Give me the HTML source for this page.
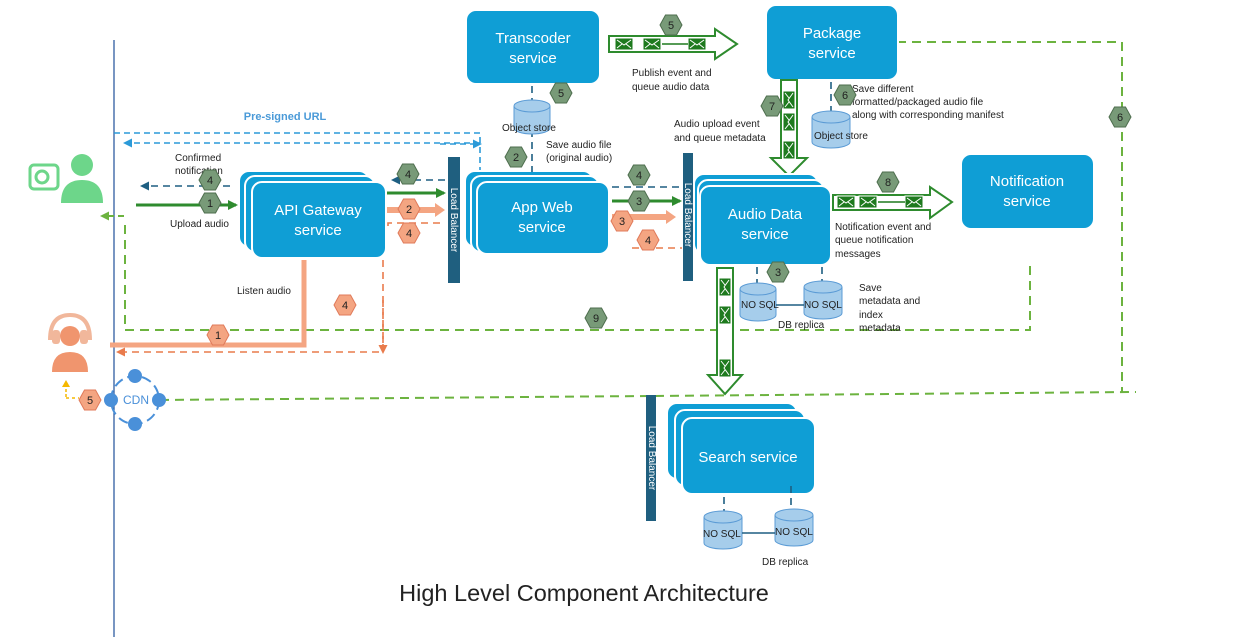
<!DOCTYPE html>
<html><head><meta charset="utf-8"><style>
html,body{margin:0;padding:0;background:#fff;width:1257px;height:637px;overflow:hidden}
svg{display:block;font-family:"Liberation Sans",sans-serif}
.bx{fill:#0f9ed5;stroke:#fff;stroke-width:2}
.bt{fill:#fff;font-size:15px;text-anchor:middle}
.lbl{font-size:10px;fill:#222}
.hg{fill:#789a78;stroke:#4e6e4e;stroke-width:1}
.ho{fill:#f4a582;stroke:#e07a5a;stroke-width:1}
.ht{font-size:11px;text-anchor:middle;fill:#222}
.cyl{fill:#a6cdeb;stroke:#5b9bd5;stroke-width:1}
.gd{stroke:#6cb33f;stroke-width:2;stroke-dasharray:9 6;fill:none}
.od{stroke:#e97b4c;stroke-width:1.6;stroke-dasharray:7 5;fill:none}
.bd{stroke:#1e5f82;stroke-width:1.6;stroke-dasharray:7 5;fill:none}
.ld{stroke:#2b9ad8;stroke-width:1.6;stroke-dasharray:6 4;fill:none}
</style></head><body>
<svg width="1257" height="637" viewBox="0 0 1257 637">
<defs>
<marker id="ag" markerUnits="userSpaceOnUse" markerWidth="10" markerHeight="10" refX="8" refY="5" orient="auto"><path d="M0,0L10,5L0,10z" fill="#2e8b2e"/></marker>
<marker id="ab" markerUnits="userSpaceOnUse" markerWidth="9" markerHeight="9" refX="7" refY="4.5" orient="auto"><path d="M0,0L9,4.5L0,9z" fill="#1e5f82"/></marker>
<marker id="al" markerUnits="userSpaceOnUse" markerWidth="9" markerHeight="9" refX="7" refY="4.5" orient="auto"><path d="M0,0L9,4.5L0,9z" fill="#2b9ad8"/></marker>
<marker id="ao" markerUnits="userSpaceOnUse" markerWidth="9" markerHeight="9" refX="7" refY="4.5" orient="auto"><path d="M0,0L9,4.5L0,9z" fill="#e97b4c"/></marker>
<marker id="agl" markerUnits="userSpaceOnUse" markerWidth="9" markerHeight="9" refX="7" refY="4.5" orient="auto"><path d="M0,0L9,4.5L0,9z" fill="#6cb33f"/></marker>
<g id="env"><rect x="-9" y="-6" width="18" height="12" fill="#1e7a1e" stroke="#fff" stroke-width="1"/><path d="M-7,-4L0,1L7,-4M-7,4L-2,0M7,4L2,0" stroke="#fff" fill="none" stroke-width="1"/></g>
</defs>

<line x1="114" y1="40" x2="114" y2="637" stroke="#1e4f9a" stroke-width="1.2"/>

<path class="gd" d="M125,225 V330 H1030 V265"/>
<path class="gd" d="M897,42 H1122 V392"/>
<path class="gd" d="M160,400 L1136,392"/>
<line x1="124" y1="216" x2="102" y2="216" stroke="#6cb33f" stroke-width="2" stroke-dasharray="6 4" marker-end="url(#agl)"/>

<text x="285" y="120" font-size="11" font-weight="bold" fill="#4a9ad8" text-anchor="middle">Pre-signed URL</text>
<path class="ld" d="M114,133 H480 V180"/>
<path class="ld" d="M480,143 H125" marker-end="url(#al)"/>
<path class="ld" d="M440,144 H480" marker-end="url(#al)"/>

<g fill="#6dd68a"><rect x="30" y="165" width="28" height="24" rx="4" fill="none" stroke="#6dd68a" stroke-width="3"/><circle cx="42" cy="177" r="6" fill="none" stroke="#6dd68a" stroke-width="3"/>
<circle cx="82" cy="165" r="11"/><path d="M61,203 Q61,180 82,180 Q103,180 103,203z"/></g>
<g fill="#f0956e"><path d="M50,340 Q50,315 70,315 Q90,315 90,340" fill="none" stroke="#f1b79b" stroke-width="4"/><circle cx="70" cy="336" r="10"/><rect x="52" y="330" width="8" height="14" rx="3" fill="#f1b79b"/><rect x="80" y="330" width="8" height="14" rx="3" fill="#f1b79b"/><path d="M52,372 Q52,352 70,352 Q88,352 88,372z"/></g>
<path d="M66,398 H79" stroke="#f5b800" stroke-width="1.5" stroke-dasharray="3 3"/>
<path d="M66,397 V386" stroke="#f5b800" stroke-width="1.5" stroke-dasharray="3 2"/>
<path d="M62,387 L66,380 L70,387z" fill="#f5b800"/>

<circle cx="135" cy="400" r="24" fill="none" stroke="#4a90d9" stroke-width="2" stroke-dasharray="10 5"/>
<g fill="#4a90d9"><circle cx="135" cy="376" r="7"/><circle cx="111" cy="400" r="7"/><circle cx="159" cy="400" r="7"/><circle cx="135" cy="424" r="7"/></g>
<text x="136" y="404" font-size="12" fill="#4a90d9" text-anchor="middle">CDN</text>

<rect class="bx" x="239" y="171" width="130" height="76" rx="10"/>
<rect class="bx" x="245" y="176" width="130" height="76" rx="10"/>
<rect class="bx" x="252" y="182" width="134" height="76" rx="10"/>
<text class="bt" x="318" y="215">API Gateway</text><text class="bt" x="318" y="235">service</text>

<text class="lbl" x="175" y="161">Confirmed</text><text class="lbl" x="175" y="174">notification</text>
<line class="bd" x1="230" y1="186" x2="142" y2="186" marker-end="url(#ab)"/>
<line x1="136" y1="205" x2="236" y2="205" stroke="#2e8b2e" stroke-width="3" marker-end="url(#ag)"/>
<text class="lbl" x="170" y="227">Upload audio</text>
<text class="lbl" x="237" y="294">Listen audio</text>
<path d="M304,260 V345 H110" stroke="#f4a582" stroke-width="5" fill="none"/>
<path class="od" d="M383,260 V352 H118" marker-end="url(#ao)"/>
<path class="od" d="M383,300 V352" marker-end="url(#ao)"/>

<line class="bd" x1="445" y1="180" x2="393" y2="180" marker-end="url(#ab)"/>
<line x1="387" y1="193" x2="444" y2="193" stroke="#2e8b2e" stroke-width="3" marker-end="url(#ag)"/>
<path d="M387,207 H435 V203 L445,210 L435,217 V213 H387z" fill="#f4a582"/>
<path class="od" d="M388,226 V223 H445"/>

<rect x="448" y="157" width="12" height="126" fill="#1f5f7f"/>
<text x="451" y="220" font-size="10" fill="#fff" text-anchor="middle" transform="rotate(90 451 220)">Load Balancer</text>

<rect class="bx" x="465" y="171" width="128" height="76" rx="10"/>
<rect class="bx" x="471" y="176" width="128" height="76" rx="10"/>
<rect class="bx" x="477" y="182" width="132" height="72" rx="10"/>
<text class="bt" x="542" y="212">App Web</text><text class="bt" x="542" y="232">service</text>

<rect class="bx" x="466" y="10" width="134" height="74" rx="10"/>
<text class="bt" x="533" y="43">Transcoder</text><text class="bt" x="533" y="63">service</text>
<line class="bd" x1="532" y1="86" x2="532" y2="104"/>
<line class="bd" x1="532" y1="130" x2="532" y2="172"/>
<path class="cyl" d="M514,106 V128 A18,6 0 0 0 550,128 V106"/><ellipse class="cyl" cx="532" cy="106" rx="18" ry="6"/>
<text class="lbl" x="502" y="131">Object store</text>
<text class="lbl" x="546" y="148">Save audio file</text><text class="lbl" x="546" y="161">(original audio)</text>

<path d="M609,36 H715 V29 L737,44 L715,59 V52 H609z" fill="#fff" stroke="#2e8b2e" stroke-width="2"/>
<use href="#env" x="624" y="44"/><use href="#env" x="652" y="44"/><use href="#env" x="697" y="44"/>
<line x1="662" y1="44" x2="688" y2="44" stroke="#1e7a1e" stroke-width="1.5"/>
<text class="lbl" x="632" y="76">Publish event and</text><text class="lbl" x="632" y="90">queue audio data</text>

<rect class="bx" x="766" y="5" width="132" height="75" rx="10"/>
<text class="bt" x="832" y="38">Package</text><text class="bt" x="832" y="58">service</text>
<line class="bd" x1="831" y1="82" x2="831" y2="112"/>
<path class="cyl" d="M812,117 V142 A19,6 0 0 0 850,142 V117"/><ellipse class="cyl" cx="831" cy="117" rx="19" ry="6"/>
<text class="lbl" x="814" y="139">Object store</text>
<text class="lbl" x="852" y="92">Save different</text><text class="lbl" x="852" y="105">formatted/packaged  audio file</text><text class="lbl" x="852" y="118">along with corresponding manifest</text>
<path d="M781,80 H797 V158 H807 L789,176 L771,158 H781z" fill="#fff" stroke="#2e8b2e" stroke-width="2"/>
<g transform="rotate(90 789 100)"><use href="#env" x="789" y="100"/></g>
<g transform="rotate(90 789 122)"><use href="#env" x="789" y="122"/></g>
<g transform="rotate(90 789 150)"><use href="#env" x="789" y="150"/></g>
<text class="lbl" x="674" y="127">Audio upload event</text><text class="lbl" x="674" y="141">and queue metadata</text>

<line class="bd" x1="612" y1="187" x2="680" y2="187"/>
<line x1="612" y1="201" x2="680" y2="201" stroke="#2e8b2e" stroke-width="3" marker-end="url(#ag)"/>
<path d="M612,214 H666 V210 L676,217 L666,224 V220 H612z" fill="#f4a582"/>
<path class="od" d="M632,248 H682"/>

<rect x="683" y="153" width="10" height="128" fill="#1f5f7f"/>
<text x="685" y="215" font-size="10" fill="#fff" text-anchor="middle" transform="rotate(90 685 215)">Load Balancer</text>

<rect class="bx" x="694" y="174" width="124" height="80" rx="10"/>
<rect class="bx" x="698" y="180" width="126" height="80" rx="10"/>
<rect class="bx" x="700" y="186" width="131" height="79" rx="10"/>
<text class="bt" x="765" y="219">Audio Data</text><text class="bt" x="765" y="239">service</text>

<line class="bd" x1="757" y1="267" x2="757" y2="285"/><line class="bd" x1="822" y1="267" x2="822" y2="285"/>
<path class="cyl" d="M740,289 V315 A18,6 0 0 0 776,315 V289"/><ellipse class="cyl" cx="758" cy="289" rx="18" ry="6"/>
<path class="cyl" d="M804,287 V313 A19,6 0 0 0 842,313 V287"/><ellipse class="cyl" cx="823" cy="287" rx="19" ry="6"/>
<line x1="776" y1="305" x2="804" y2="305" stroke="#1e5f82" stroke-width="1.5"/>
<text class="lbl" x="741" y="308">NO SQL</text><text class="lbl" x="804" y="308">NO SQL</text>
<text class="lbl" x="778" y="328">DB replica</text>
<text class="lbl" x="859" y="291">Save</text><text class="lbl" x="859" y="304">metadata and</text><text class="lbl" x="859" y="318">index</text><text class="lbl" x="859" y="331">metadata</text>
<text class="lbl" x="835" y="230">Notification event and</text><text class="lbl" x="835" y="243">queue notification</text><text class="lbl" x="835" y="257">messages</text>

<path d="M833,195 H930 V187 L952,202 L930,218 V210 H833z" fill="#fff" stroke="#2e8b2e" stroke-width="2"/>
<use href="#env" x="846" y="202"/><use href="#env" x="868" y="202"/><use href="#env" x="914" y="202"/>
<line x1="878" y1="202" x2="905" y2="202" stroke="#1e7a1e" stroke-width="1.5"/>

<rect class="bx" x="961" y="154" width="133" height="75" rx="10"/>
<text class="bt" x="1027" y="186">Notification</text><text class="bt" x="1027" y="206">service</text>

<path d="M717,268 H733 V375 H742 L725,394 L708,375 H717z" fill="#fff" stroke="#2e8b2e" stroke-width="2"/>
<g transform="rotate(90 725 287)"><use href="#env" x="725" y="287"/></g>
<g transform="rotate(90 725 315)"><use href="#env" x="725" y="315"/></g>
<g transform="rotate(90 725 368)"><use href="#env" x="725" y="368"/></g>

<rect x="646" y="395" width="10" height="126" fill="#1f5f7f"/>
<text x="649" y="458" font-size="10" fill="#fff" text-anchor="middle" transform="rotate(90 649 458)">Load Balancer</text>

<rect class="bx" x="667" y="403" width="130" height="76" rx="10"/>
<rect class="bx" x="675" y="410" width="130" height="76" rx="10"/>
<rect class="bx" x="682" y="418" width="133" height="76" rx="10"/>
<text class="bt" x="748" y="462">Search service</text>
<line class="bd" x1="724" y1="497" x2="724" y2="533"/><line class="bd" x1="791" y1="486" x2="791" y2="533"/>
<path class="cyl" d="M704,517 V543 A19,6 0 0 0 742,543 V517"/><ellipse class="cyl" cx="723" cy="517" rx="19" ry="6"/>
<path class="cyl" d="M775,515 V540 A19,6 0 0 0 813,540 V515"/><ellipse class="cyl" cx="794" cy="515" rx="19" ry="6"/>
<line x1="742" y1="533" x2="775" y2="533" stroke="#1e5f82" stroke-width="1.5"/>
<text class="lbl" x="703" y="537">NO SQL</text><text class="lbl" x="775" y="535">NO SQL</text>
<text class="lbl" x="762" y="565">DB replica</text>

<g>
<g transform="translate(210,180)"><path class="hg" d="M-11,0L-5.5,-10H5.5L11,0L5.5,10H-5.5z"/><text class="ht" y="4">4</text></g>
<g transform="translate(210,203)"><path class="hg" d="M-11,0L-5.5,-10H5.5L11,0L5.5,10H-5.5z"/><text class="ht" y="4">1</text></g>
<g transform="translate(408,174)"><path class="hg" d="M-11,0L-5.5,-10H5.5L11,0L5.5,10H-5.5z"/><text class="ht" y="4">4</text></g>
<g transform="translate(409,209)"><path class="ho" d="M-11,0L-5.5,-10H5.5L11,0L5.5,10H-5.5z"/><text class="ht" y="4">2</text></g>
<g transform="translate(409,233)"><path class="ho" d="M-11,0L-5.5,-10H5.5L11,0L5.5,10H-5.5z"/><text class="ht" y="4">4</text></g>
<g transform="translate(345,305)"><path class="ho" d="M-11,0L-5.5,-10H5.5L11,0L5.5,10H-5.5z"/><text class="ht" y="4">4</text></g>
<g transform="translate(218,335)"><path class="ho" d="M-11,0L-5.5,-10H5.5L11,0L5.5,10H-5.5z"/><text class="ht" y="4">1</text></g>
<g transform="translate(90,400)"><path class="ho" d="M-11,0L-5.5,-10H5.5L11,0L5.5,10H-5.5z"/><text class="ht" y="4">5</text></g>
<g transform="translate(516,157)"><path class="hg" d="M-11,0L-5.5,-10H5.5L11,0L5.5,10H-5.5z"/><text class="ht" y="4">2</text></g>
<g transform="translate(561,93)"><path class="hg" d="M-11,0L-5.5,-10H5.5L11,0L5.5,10H-5.5z"/><text class="ht" y="4">5</text></g>
<g transform="translate(671,25)"><path class="hg" d="M-11,0L-5.5,-10H5.5L11,0L5.5,10H-5.5z"/><text class="ht" y="4">5</text></g>
<g transform="translate(639,175)"><path class="hg" d="M-11,0L-5.5,-10H5.5L11,0L5.5,10H-5.5z"/><text class="ht" y="4">4</text></g>
<g transform="translate(639,201)"><path class="hg" d="M-11,0L-5.5,-10H5.5L11,0L5.5,10H-5.5z"/><text class="ht" y="4">3</text></g>
<g transform="translate(622,221)"><path class="ho" d="M-11,0L-5.5,-10H5.5L11,0L5.5,10H-5.5z"/><text class="ht" y="4">3</text></g>
<g transform="translate(648,240)"><path class="ho" d="M-11,0L-5.5,-10H5.5L11,0L5.5,10H-5.5z"/><text class="ht" y="4">4</text></g>
<g transform="translate(772,106)"><path class="hg" d="M-11,0L-5.5,-10H5.5L11,0L5.5,10H-5.5z"/><text class="ht" y="4">7</text></g>
<g transform="translate(845,95)"><path class="hg" d="M-11,0L-5.5,-10H5.5L11,0L5.5,10H-5.5z"/><text class="ht" y="4">6</text></g>
<g transform="translate(888,182)"><path class="hg" d="M-11,0L-5.5,-10H5.5L11,0L5.5,10H-5.5z"/><text class="ht" y="4">8</text></g>
<g transform="translate(778,272)"><path class="hg" d="M-11,0L-5.5,-10H5.5L11,0L5.5,10H-5.5z"/><text class="ht" y="4">3</text></g>
<g transform="translate(596,318)"><path class="hg" d="M-11,0L-5.5,-10H5.5L11,0L5.5,10H-5.5z"/><text class="ht" y="4">9</text></g>
<g transform="translate(1120,117)"><path class="hg" d="M-11,0L-5.5,-10H5.5L11,0L5.5,10H-5.5z"/><text class="ht" y="4">6</text></g>
</g>

<text x="584" y="601" font-size="23.5" fill="#222" text-anchor="middle">High Level Component Architecture</text>
</svg>
</body></html>
